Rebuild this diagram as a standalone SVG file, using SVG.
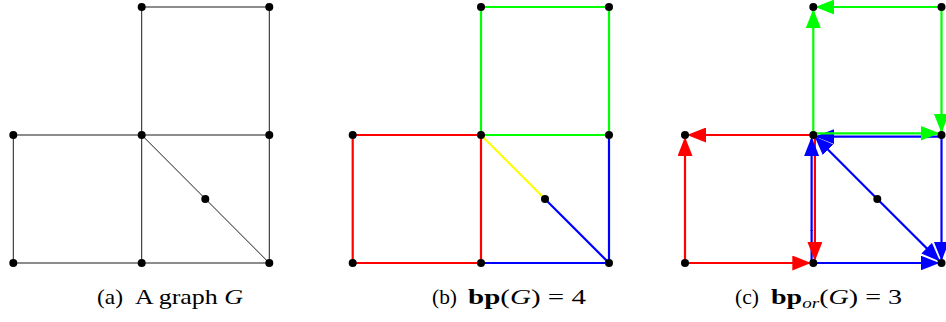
<svg xmlns="http://www.w3.org/2000/svg" width="946" height="322" viewBox="0 0 946 322">
<style>
.n{fill:#000}
.ea{stroke:#000;stroke-width:0.9;fill:none}
.e{stroke-width:2.2;fill:none}
.r{stroke:#ff0000}
.g{stroke:#00ff00}
.b{stroke:#0000ff}
.y{stroke:#ffff00}
.cap{font-family:"Liberation Serif","Times New Roman",serif;font-size:22px;fill:#000}
.bf{font-weight:bold}
.it{font-style:italic}
</style>
<defs>
<marker id="aR" markerUnits="userSpaceOnUse" markerWidth="19" markerHeight="15" refX="17" refY="7.5" orient="auto"><path d="M0,0 L19,7.5 L0,15 z" fill="#ff0000"/></marker>
<marker id="aG" markerUnits="userSpaceOnUse" markerWidth="19" markerHeight="15" refX="17" refY="7.5" orient="auto"><path d="M0,0 L19,7.5 L0,15 z" fill="#00ff00"/></marker>
<marker id="aB" markerUnits="userSpaceOnUse" markerWidth="19" markerHeight="15" refX="17" refY="7.5" orient="auto"><path d="M0,0 L19,7.5 L0,15 z" fill="#0000ff"/></marker>
</defs>
<rect width="946" height="322" fill="#fff"/>

<!-- Panel (a) connectors -->
<g id="connectors-a">
<line class="ea" x1="141.7" y1="7" x2="269.3" y2="7"/>
<line class="ea" x1="141.7" y1="7" x2="141.7" y2="135"/>
<line class="ea" x1="269.3" y1="7" x2="269.3" y2="135"/>
<line class="ea" x1="13.3" y1="135" x2="269.3" y2="135"/>
<line class="ea" x1="13.3" y1="135" x2="13.3" y2="263"/>
<line class="ea" x1="141.7" y1="135" x2="141.7" y2="263"/>
<line class="ea" x1="269.3" y1="135" x2="269.3" y2="263"/>
<line class="ea" x1="13.3" y1="263" x2="269.3" y2="263"/>
<line class="ea" x1="141.7" y1="135" x2="269.3" y2="263"/>
</g>

<!-- Panel (b) connectors -->
<g id="connectors-b">
<line class="e r" x1="352.7" y1="135" x2="481" y2="135"/>
<line class="e r" x1="352.7" y1="135" x2="352.7" y2="263"/>
<line class="e r" x1="352.7" y1="263" x2="481" y2="263"/>
<line class="e r" x1="481" y1="135" x2="481" y2="263"/>
<line class="e g" x1="481" y1="7" x2="609" y2="7"/>
<line class="e g" x1="481" y1="7" x2="481" y2="135"/>
<line class="e g" x1="609" y1="7" x2="609" y2="135"/>
<line class="e g" x1="481" y1="135" x2="609" y2="135"/>
<line class="e y" x1="481" y1="135" x2="545" y2="199"/>
<line class="e b" x1="545" y1="199" x2="609" y2="263"/>
<line class="e b" x1="609" y1="135" x2="609" y2="263"/>
<line class="e b" x1="481" y1="263" x2="609" y2="263"/>
</g>

<!-- Panel (c) connectors -->
<g id="connectors-c">
<line class="e g" x1="813.3" y1="135" x2="813.3" y2="11" marker-end="url(#aG)"/>
<line class="e g" x1="941.5" y1="7" x2="817.3" y2="7" marker-end="url(#aG)"/>
<line class="e g" x1="941.5" y1="7" x2="941.5" y2="131" marker-end="url(#aG)"/>
<line class="e b" x1="941.5" y1="136.6" x2="817.3" y2="136.6" marker-end="url(#aB)"/>
<line class="e g" x1="813.3" y1="133.3" x2="937.5" y2="133.3" marker-end="url(#aG)"/>
<line class="e r" x1="685" y1="263" x2="809.3" y2="263" marker-end="url(#aR)"/>
<line class="e r" x1="813.3" y1="135" x2="689" y2="135" marker-end="url(#aR)"/>
<line class="e r" x1="685" y1="263" x2="685" y2="139" marker-end="url(#aR)"/>
<g id="edge-c-mid-blue-low"><line class="e b" x1="811.6" y1="263" x2="811.6" y2="230"/></g>
<line class="e r" x1="814.9" y1="135" x2="814.9" y2="259" marker-end="url(#aR)"/>
<g id="edge-c-mid-blue-up"><line class="e b" x1="811.6" y1="231" x2="811.6" y2="139" marker-end="url(#aB)"/></g>
<line class="e b" x1="877.3" y1="199" x2="816.1" y2="137.8" marker-end="url(#aB)"/>
<line class="e b" x1="877.3" y1="199" x2="938.7" y2="260.2" marker-end="url(#aB)"/>
<line class="e b" x1="813.3" y1="263" x2="937.5" y2="263" marker-end="url(#aB)"/>
<line class="e b" x1="941.5" y1="135" x2="941.5" y2="259" marker-end="url(#aB)"/>
</g>

<!-- Panel (a) nodes -->
<g id="a-n1"><circle class="n" cx="141.7" cy="7" r="4"/></g>
<g id="a-n2"><circle class="n" cx="269.3" cy="7" r="4"/></g>
<g id="a-n3"><circle class="n" cx="13.3" cy="135" r="4"/></g>
<g id="a-n4"><circle class="n" cx="141.7" cy="135" r="4"/></g>
<g id="a-n5"><circle class="n" cx="269.3" cy="135" r="4"/></g>
<g id="a-n6"><circle class="n" cx="205.3" cy="199" r="4"/></g>
<g id="a-n7"><circle class="n" cx="13.3" cy="263" r="4"/></g>
<g id="a-n8"><circle class="n" cx="141.7" cy="263" r="4"/></g>
<g id="a-n9"><circle class="n" cx="269.3" cy="263" r="4"/></g>

<!-- Panel (b) nodes -->
<g id="b-n1"><circle class="n" cx="481" cy="7" r="4"/></g>
<g id="b-n2"><circle class="n" cx="609" cy="7" r="4"/></g>
<g id="b-n3"><circle class="n" cx="352.7" cy="135" r="4"/></g>
<g id="b-n4"><circle class="n" cx="481" cy="135" r="4"/></g>
<g id="b-n5"><circle class="n" cx="609" cy="135" r="4"/></g>
<g id="b-n6"><circle class="n" cx="545" cy="199" r="4"/></g>
<g id="b-n7"><circle class="n" cx="352.7" cy="263" r="4"/></g>
<g id="b-n8"><circle class="n" cx="481" cy="263" r="4"/></g>
<g id="b-n9"><circle class="n" cx="609" cy="263" r="4"/></g>

<!-- Panel (c) nodes -->
<g id="c-n1"><circle class="n" cx="813.3" cy="7" r="4"/></g>
<g id="c-n2"><circle class="n" cx="941.5" cy="7" r="4"/></g>
<g id="c-n3"><circle class="n" cx="685" cy="135" r="4"/></g>
<g id="c-n4"><circle class="n" cx="813.3" cy="135" r="4"/></g>
<g id="c-n5"><circle class="n" cx="941.5" cy="135" r="4"/></g>
<g id="c-n6"><circle class="n" cx="877.3" cy="199" r="4"/></g>
<g id="c-n7"><circle class="n" cx="685" cy="263" r="4"/></g>
<g id="c-n8"><circle class="n" cx="813.3" cy="263" r="4"/></g>
<g id="c-n9"><circle class="n" cx="941.5" cy="263" r="4"/></g>

<!-- Captions -->
<g id="captions">
<text class="cap" x="97" y="304" textLength="26" lengthAdjust="spacingAndGlyphs">(a)</text>
<text class="cap" x="135" y="304" textLength="108" lengthAdjust="spacingAndGlyphs">A graph <tspan class="it">G</tspan></text>
<text class="cap" x="432" y="304" textLength="25" lengthAdjust="spacingAndGlyphs">(b)</text>
<text class="cap" x="468" y="304" textLength="118" lengthAdjust="spacingAndGlyphs"><tspan class="bf">bp</tspan>(<tspan class="it">G</tspan>) = 4</text>
<text class="cap" x="735" y="304" textLength="24" lengthAdjust="spacingAndGlyphs">(c)</text>
<text class="cap" x="771" y="304" textLength="131" lengthAdjust="spacingAndGlyphs"><tspan class="bf">bp</tspan><tspan class="it" font-size="15" dy="4">or</tspan><tspan dy="-4">(</tspan><tspan class="it">G</tspan>) = 3</text>
</g>
</svg>
